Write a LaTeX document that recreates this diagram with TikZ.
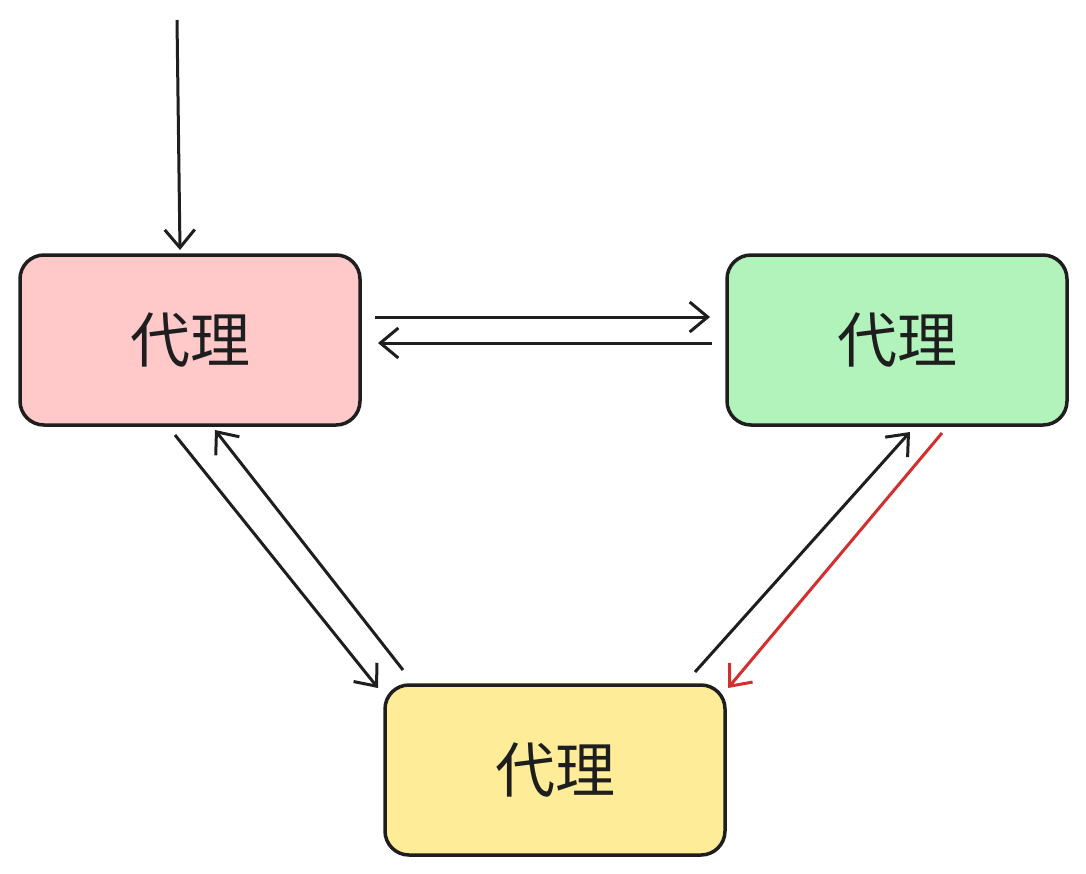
\documentclass[tikz,border=0pt]{standalone}
\usepackage{fontspec}
\newfontfamily\cjk{Noto Sans CJK SC}
\usetikzlibrary{arrows.meta}
\definecolor{fr}{HTML}{FFC9C9}
\definecolor{fg}{HTML}{B2F2BB}
\definecolor{fy}{HTML}{FFEC99}
\definecolor{ln}{HTML}{1E1E1E}
\definecolor{rd}{HTML}{D32F2F}
\begin{document}
\begin{tikzpicture}[x=1pt,y=-1pt,
  box/.style={draw=ln,line width=3.5pt,rounded corners=24pt,minimum width=340pt,minimum height=170pt,font=\cjk\fontsize{60}{64}\selectfont,text=ln},
  arr/.style={draw=ln,line width=3pt,-{Straight Barb[length=18pt,width=30pt,line width=3pt]}}]
\useasboundingbox[fill=white] (0,0) rectangle (1086,873);
\node[box,fill=fr] (a) at (190,340) {代理};
\node[box,fill=fg] (b) at (897,340) {代理};
\node[box,fill=fy] (c) at (555,770) {代理};
\coordinate (s) at (177,20);
\draw[arr] (s) -- (180,250);
\draw[arr] (375,317) -- (710,317);
\draw[arr] (712,343) -- (378,343);
\draw[arr] (175,435) -- (378,688);
\draw[arr] (403,670) -- (215,430);
\draw[arr] (695,672) -- (910,432);
\draw[arr,draw=rd] (942,433) -- (728,688);
\end{tikzpicture}
\end{document}
